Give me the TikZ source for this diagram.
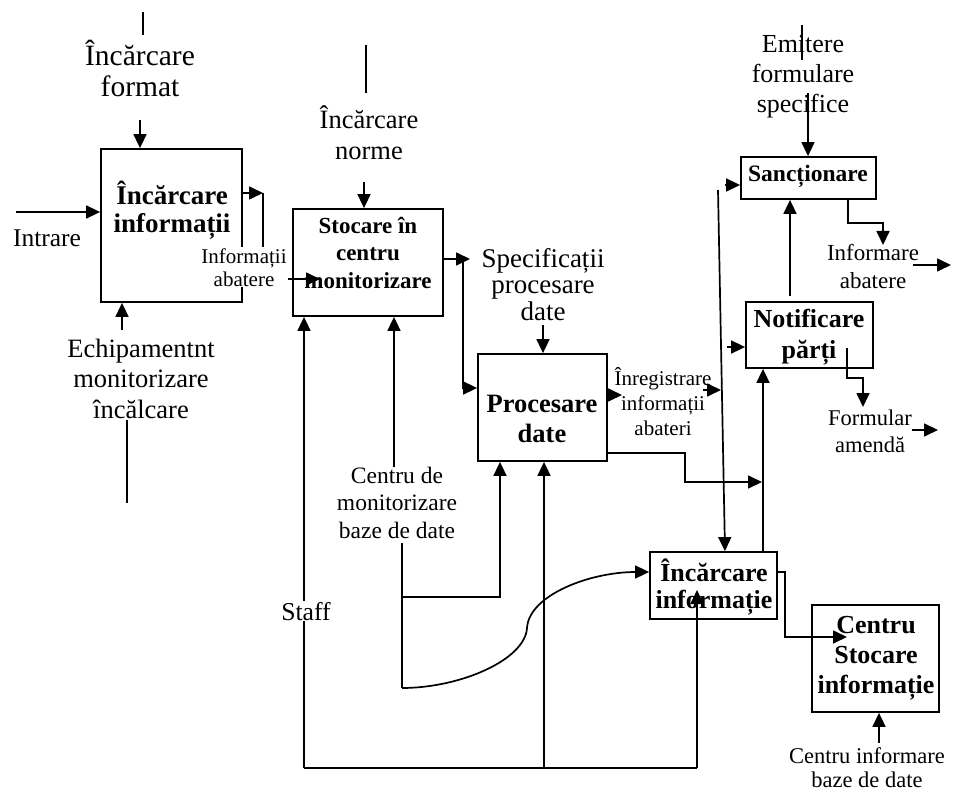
\documentclass[tikz,border=0pt]{standalone}
\usepackage{fontspec}
\setmainfont{Liberation Serif}
\usetikzlibrary{arrows.meta,calc}

\tikzset{
  box/.style={draw, line width=1.8pt, rectangle, inner sep=0pt},
  wire/.style={line width=1.7pt},
  arr/.style={wire, -{Triangle[length=14pt,width=13pt]}},
  lbl/.style={align=center, inner sep=0pt, anchor=base},
  boxtxt/.style={lbl, font=\bfseries},
}
\newcommand{\fs}[2]{\fontsize{#1}{#2}\selectfont}

\begin{document}
\begin{tikzpicture}[x=1pt,y=-1pt]
\useasboundingbox (0,0) rectangle (955,794);

% ---------- process boxes ----------
\node[box, minimum width=141pt, minimum height=153pt] (b1) at (171.5,225.5) {};
\node[box, minimum width=150pt, minimum height=107pt] (b2) at (368,262.5) {};
\node[box, minimum width=129pt, minimum height=107pt] (b3) at (542.5,407.5) {};
\node[box, minimum width=135pt, minimum height=42pt]  (b4) at (808.5,178) {};
\node[box, minimum width=127pt, minimum height=66pt]  (b5) at (809.5,335) {};
\node[box, minimum width=127pt, minimum height=67pt]  (b6) at (713.5,585.5) {};
\node[box, minimum width=127pt, minimum height=107pt] (b7) at (875.5,658.5) {};

% ---------- box titles (anchored on the baseline of the last line) ----------
\node[boxtxt, font=\bfseries\fs{27}{28}] (t1) at (172,233) {Încărcare\\informații};
\node[boxtxt, font=\bfseries\fs{23}{27.5}] (t2) at (368,288) {Stocare în\\centru\\monitorizare};
\node[boxtxt, font=\bfseries\fs{26.5}{30}] (t3) at (542,442) {Procesare\\date};
\node[boxtxt, font=\bfseries\fs{23.5}{27}] (t4) at (808,182) {Sancționare};
\node[boxtxt, font=\bfseries\fs{26}{31}] (t5) at (809,358) {Notificare\\părți};
\node[boxtxt, font=\bfseries\fs{26}{27}] (t6) at (714,608) {Încărcare\\informație};
\node[boxtxt, font=\bfseries\fs{26}{30}] (t7) at (876,693) {Centru\\Stocare\\informație};

% ---------- free labels ----------
\node[lbl, font=\fs{29.5}{31}] (l1) at (140,97) {Încărcare\\format};
\node[lbl, font=\fs{25.5}{30}] (l2) at (47,247) {Intrare};
\node[lbl, font=\fs{26.5}{30.5}] (l3) at (141,418) {Echipamentnt\\monitorizare\\încălcare};
\node[lbl, font=\fs{26.5}{31}] (l5) at (369,160) {Încărcare\\norme};
\node[lbl, font=\fs{27}{26.5}] (l6) at (543,320) {Specificații\\procesare\\date};
\node[lbl, font=\fs{23.5}{27.5}] (l7) at (397,538) {Centru de\\monitorizare\\baze de date};
\node[lbl, font=\fs{21}{25}] (l9) at (663,435) {Înregistrare\\informații\\abateri};
\node[lbl, font=\fs{26}{30}] (l10) at (803,113) {Emitere\\formulare\\specifice};
\node[lbl, font=\fs{23}{28}] (l11) at (873,288) {Informare\\abatere};
\node[lbl, font=\fs{22.5}{27}] (l12) at (870,452) {Formular\\amendă};
\node[lbl, font=\fs{22.5}{24}] (l13) at (867,787) {Centru informare\\baze de date};

% ---------- reference points ----------
\coordinate (fmtTop) at (143,12);  \coordinate (fmtBot) at (143,35);
\coordinate (fmtIn)  at (140,120);
\coordinate (intr)   at (16,212);
\coordinate (echIn)  at (122,330);
\coordinate (echTop) at (127,420); \coordinate (echBot) at (127,503);
\coordinate (b1o)    at (263,193);
\coordinate (b1d)    at (263,279); \coordinate (b2in) at (320,279);
\coordinate (normTop) at (366,45); \coordinate (normBot) at (366,93);
\coordinate (normIn) at (364,182);
\coordinate (b2o)    at (470,259); \coordinate (b2v) at (463,259);
\coordinate (b2d)    at (463,388);
\coordinate (specIn) at (543,325);
\coordinate (staffX) at (304,768);
\coordinate (cmIn)   at (394,467);
\coordinate (cmTop)  at (402,543); \coordinate (cmJ) at (402,597);
\coordinate (cmEnd)  at (402,688);
\coordinate (pdA)    at (500,597);
\coordinate (pdB)    at (544,768);
\coordinate (botR)   at (697,768);
\coordinate (pdOut)  at (622,395);
\coordinate (inrA)   at (703,390); \coordinate (inrB) at (721,390);
\coordinate (pdLow)  at (685,453); \coordinate (pdLow2) at (685,482);
\coordinate (pdLowEnd) at (762,482);
\coordinate (vTop)   at (718,190); \coordinate (vx) at (725,500);
\coordinate (sIn)    at (725,185);
\coordinate (nIn)    at (727,347);
\coordinate (nUp)    at (763,500);
\coordinate (n2s)    at (790,296);
\coordinate (emTop)  at (802,25);  \coordinate (emBot) at (802,60);
\coordinate (emIn)   at (808,93);
\coordinate (sOut)   at (848,223); \coordinate (sOut2) at (883,223);
\coordinate (sOutEnd) at (883,245);
\coordinate (infA)   at (913,265); \coordinate (infB) at (951,265);
\coordinate (nOut)   at (847,348); \coordinate (nOut2) at (847,378);
\coordinate (nOut3)  at (863,378); \coordinate (nOutEnd) at (863,407);
\coordinate (fA)     at (912,430); \coordinate (fB) at (938,430);
\coordinate (iOut)   at (785,572); \coordinate (iOut2) at (785,637);
\coordinate (iOutEnd) at (847,637);
\coordinate (cIn)    at (879,743);
\coordinate (ciY)    at (600,572);

% ---------- connectors: first box ----------
\draw[wire] (fmtTop) -- (fmtBot);
\draw[arr] (fmtIn) -- (fmtIn |- b1.north);
\draw[arr] (intr) -- (intr -| b1.west);
\draw[arr] (echIn) -- (echIn |- b1.south);
\draw[wire] (echTop) -- (echBot);
\draw[arr] (b1o -| b1.east) -- (b1o);
\draw[arr] (b1o) -- (b1d) -- (b2in);

% ---------- connectors: storage box ----------
\draw[wire] (normTop) -- (normBot);
\draw[arr] (normIn) -- (normIn |- b2.north);
\draw[arr] (b2o -| b2.east) -- (b2o);
\draw[arr] (b2v) -- (b2d) -- (b2d -| b3.west);
\draw[arr] (staffX) -- (staffX |- b2.south);
\draw[arr] (cmIn) -- (cmIn |- b2.south);

% ---------- connectors: processing box ----------
\draw[arr] (specIn) -- (specIn |- b3.north);
\draw[wire] (cmTop) -- (cmEnd);
\draw[arr] (cmJ) -- (pdA) -- (pdA |- b3.south);
\draw[wire] (staffX) -- (botR);
\draw[arr] (pdB) -- (pdB |- b3.south);
\draw[arr] (pdOut -| b3.east) -- (pdOut);
\draw[arr] (inrA) -- (inrB);
\draw[arr] (pdLow -| b3.east) -- (pdLow) -- (pdLow2) -- (pdLowEnd);
\draw[arr] (cmEnd) .. controls (460,688) and (525,660) .. (527,628)
                   .. controls (529,595) and (590,572) .. (ciY -| b6.west);

% ---------- connectors: right column ----------
\draw[arr] (vTop) -- (vx |- b6.north);
\draw[arr] (sIn) -- (sIn -| b4.west);
\draw[arr] (nIn) -- (nIn -| b5.west);
\draw[arr] (nUp |- b6.north) -- (nUp |- b5.south);
\draw[arr] (n2s) -- (n2s |- b4.south);
\draw[wire] (emTop) -- (emBot);
\draw[arr] (emIn) -- (emIn |- b4.north);
\draw[arr] (sOut |- b4.south) -- (sOut) -- (sOut2) -- (sOutEnd);
\draw[arr] (infA) -- (infB);
\draw[arr] (nOut) -- (nOut2) -- (nOut3) -- (nOutEnd);
\draw[arr] (fA) -- (fB);
\draw[arr] (iOut -| b6.east) -- (iOut) -- (iOut2) -- (iOutEnd);
\draw[arr] (cIn) -- (cIn |- b7.south);
\draw[arr] (botR) -- (697,590);

% ---------- labels set over the wires ----------
\node[lbl, font=\fs{21}{23}, fill=white, inner sep=1pt] (l4) at (244,286) {Informații\\abatere};
\node[lbl, font=\fs{25.7}{30}, fill=white, inner sep=1pt] (l8) at (306,620) {Staff};
\end{tikzpicture}
\end{document}
